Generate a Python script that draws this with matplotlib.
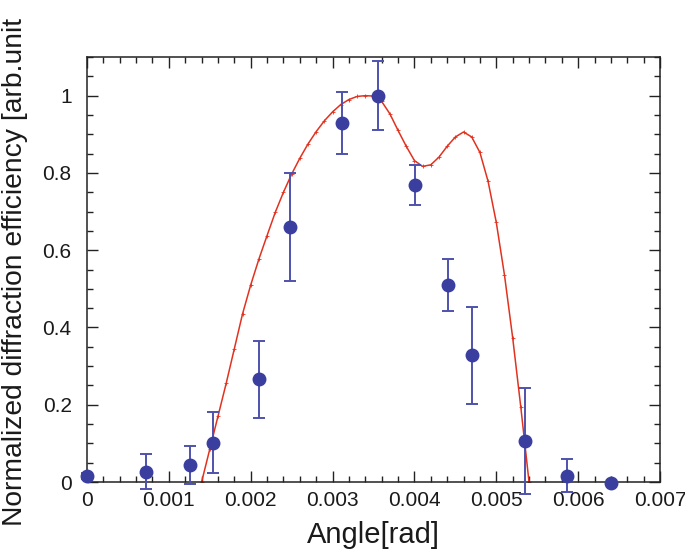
#!/usr/bin/env python3
"""Normalized diffraction efficiency vs angle: measured points with error bars and simulated curve."""

import matplotlib
matplotlib.use("Agg")
import matplotlib.pyplot as plt
import numpy as np
from matplotlib.ticker import MultipleLocator

plt.rcParams["font.family"] = ["Liberation Sans", "DejaVu Sans"]

# Measured points
ANGLE_MEAS = [0.0, 0.000717, 0.001258, 0.001535, 0.0021, 0.002475, 0.00311,
              0.003557, 0.004005, 0.004412, 0.004705, 0.005348, 0.005865, 0.006398]
EFF_MEAS = [0.015, 0.027, 0.044, 0.102, 0.266, 0.661, 0.929,
            1.0, 0.769, 0.510, 0.328, 0.106, 0.016, -0.002]
EFF_ERR = [0.008, 0.045, 0.05, 0.079, 0.10, 0.14, 0.081,
           0.089, 0.052, 0.068, 0.125, 0.138, 0.043, 0.0]

# Simulated curve (sampled every 0.0001 rad)
ANGLE_SIM = [0.0014, 0.0015, 0.0016, 0.0017, 0.0018, 0.0019, 0.0020, 0.0021,
             0.0022, 0.0023, 0.0024, 0.0025, 0.0026, 0.0027, 0.0028, 0.0029,
             0.0030, 0.0031, 0.0032, 0.0033, 0.0034, 0.0035, 0.0036, 0.0037,
             0.0038, 0.0039, 0.0040, 0.0041, 0.0042, 0.0043, 0.0044, 0.0045,
             0.0046, 0.0047, 0.0048, 0.0049, 0.0050, 0.0051, 0.0052, 0.0053,
             0.0054]
EFF_SIM = [0.0, 0.085, 0.17, 0.255, 0.345, 0.435, 0.51, 0.577,
           0.638, 0.698, 0.75, 0.797, 0.838, 0.875, 0.907, 0.935,
           0.958, 0.977, 0.99, 0.998, 1.0, 0.999, 0.985, 0.953,
           0.91, 0.869, 0.832, 0.817, 0.821, 0.841, 0.869, 0.893,
           0.906, 0.893, 0.853, 0.778, 0.672, 0.536, 0.374, 0.193,
           0.0]

XTICK_LABELS = ["0", "0.001", "0.002", "0.003", "0.004", "0.005", "0.006", "0.007"]
YTICK_LABELS = ["0", "0.2", "0.4", "0.6", "0.8", "1"]

# y label as it shows in the figure (runs off the top edge in the original)
YLABEL = "Normalized diffraction efficiency [arb.unit"

RED = "#e2321f"
BLUE = "#3a3e9e"
BLUE_ERR = "#4e52ad"


def main():
    fig = plt.figure(figsize=(6.85, 5.58), dpi=100)
    ax = fig.add_axes([0.127, 0.1362, 0.8365, 0.7616])

    ax.plot(ANGLE_SIM, EFF_SIM, color=RED, linewidth=1.1, marker="+",
            markersize=2.2, markeredgewidth=0.6, zorder=2)
    ax.errorbar(ANGLE_MEAS, EFF_MEAS, yerr=EFF_ERR, fmt="o", color=BLUE,
                markersize=9, ecolor=BLUE_ERR, elinewidth=1.4, capsize=4.5,
                capthick=1.4, zorder=3, clip_on=False)

    ax.set_xlim(0, 0.007)
    ax.set_ylim(0, 1.1)
    ax.xaxis.set_minor_locator(MultipleLocator(0.0002))
    ax.yaxis.set_minor_locator(MultipleLocator(0.05))
    ax.set_xticks(np.arange(len(XTICK_LABELS)) * 0.001)
    ax.set_xticklabels(XTICK_LABELS)
    ax.set_yticks(np.arange(len(YTICK_LABELS)) * 0.2)
    ax.set_yticklabels(YTICK_LABELS)

    ax.tick_params(axis="both", which="both", direction="in", top=True, right=True,
                   colors="#222222", labelcolor="#1a1a1a")
    ax.tick_params(axis="both", which="major", length=8, width=1.0, labelsize=15)
    ax.tick_params(axis="both", which="minor", length=4.3, width=1.0)
    ax.tick_params(axis="x", which="major", pad=6.5)
    ax.tick_params(axis="y", which="major", pad=11)
    for spine in ax.spines.values():
        spine.set_linewidth(1.1)
        spine.set_color("#222222")

    ax.set_xlabel("Angle[rad]", fontsize=21, color="#1a1a1a", labelpad=8)
    fig.text(0.022, 0.058, YLABEL, rotation=90, ha="center", va="bottom",
             fontsize=20.3, color="#1a1a1a")

    fig.savefig("out.png", dpi=100)
    plt.close(fig)


if __name__ == "__main__":
    main()
